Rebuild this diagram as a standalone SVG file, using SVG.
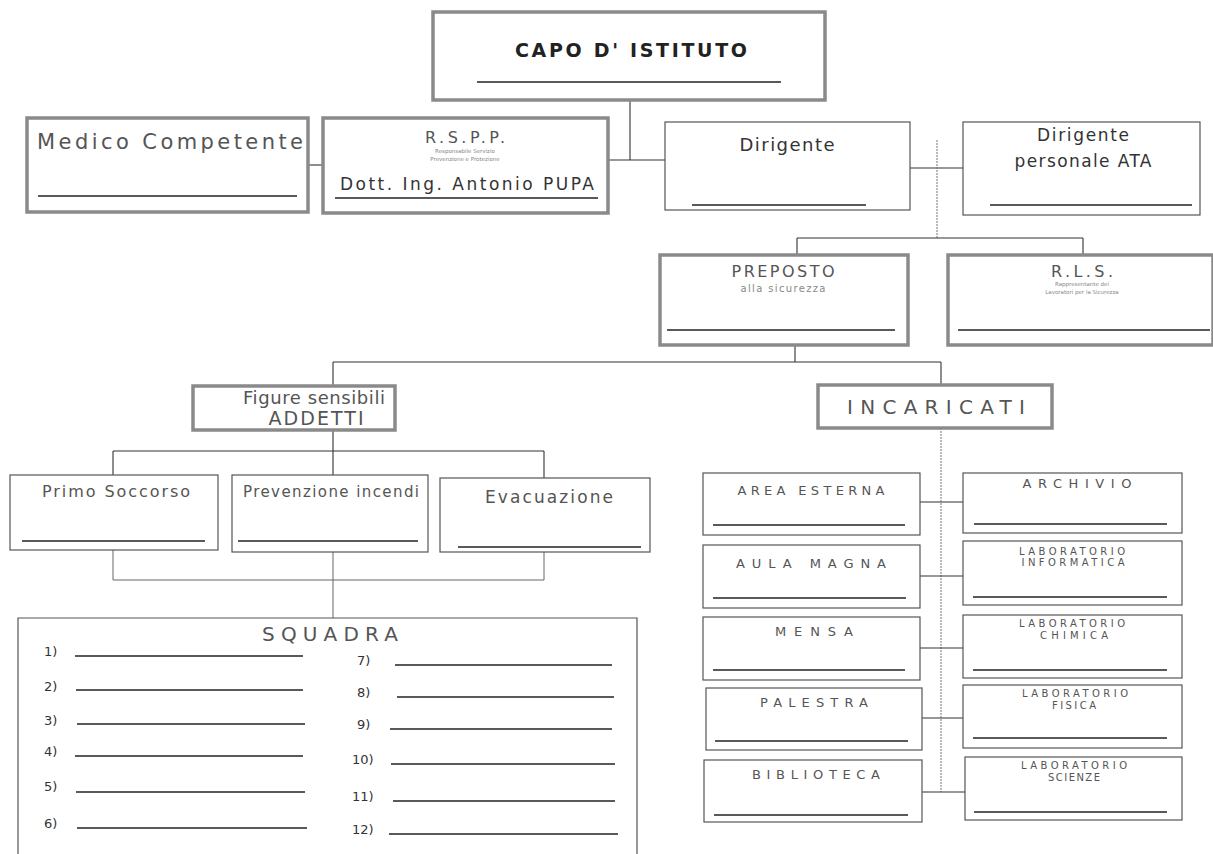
<svg xmlns="http://www.w3.org/2000/svg" width="1213" height="854" viewBox="0 0 1213 854">
<style>
.thick{fill:#fff;stroke:#8a8a8a;stroke-width:3.5}
.thin{fill:#fff;stroke:#555;stroke-width:1.2}
.ul{stroke:#222;stroke-width:1.3}
.c{stroke:#333;stroke-width:1.1;fill:none}
.cl{stroke:#666;stroke-width:1;fill:none}
.cd{stroke:#777;stroke-width:1;fill:none;stroke-dasharray:2 1}
text{font-family:"DejaVu Sans","Liberation Sans",sans-serif;text-anchor:middle}
.t{fill:#333}
.g{fill:#555}
.s{fill:#888;font-size:5.5px}
.k{fill:#555;font-size:13px}
.k2{fill:#555;font-size:10px}
.n{fill:#333;font-size:13px;text-anchor:start}
</style>
<rect width="1213" height="854" fill="#fff"/>
<g id="connectors">
<path class="c" d="M630 100V160M608 160H665"/>
<path class="c" d="M308 165H323"/>
<path class="c" d="M910 168H963"/>
<path class="cd" d="M937 140V238"/>
<path class="c" d="M797 238H1083M797 238V255M1083 238V255"/>
<path class="c" d="M795 345V362M333 362H941M333 362V386M941 362V385"/>
<path class="c" d="M333 430V451M113 451H544M113 451V475M333 451V475M544 451V478"/>
<path class="cl" d="M113 550V580M544 552V580M113 580H544M333 552V618"/>
<path class="cd" d="M941 428V792"/>
<path class="c" d="M920 502H963M920 576H963M920 648H963M922 718H963M922 792H965"/>
</g>
<g id="capo">
<rect class="thick" x="433" y="12" width="392" height="88"/>
<text x="631" y="57" font-size="19" font-weight="bold" fill="#222" textLength="232" lengthAdjust="spacing">CAPO D' ISTITUTO</text>
<line class="ul" x1="477" y1="82" x2="781" y2="82"/>
</g>
<g id="medico">
<rect class="thick" x="27" y="118" width="281" height="94"/>
<text x="170" y="149" font-size="21" class="g" textLength="266" lengthAdjust="spacing">Medico Competente</text>
<line class="ul" x1="38" y1="196" x2="297" y2="196"/>
</g>
<g id="rspp">
<rect class="thick" x="323" y="118" width="285" height="95"/>
<text x="465" y="143" font-size="16" class="g" textLength="80" lengthAdjust="spacing">R.S.P.P.</text>
<text x="465" y="153" class="s">Responsabile Servizio</text>
<text x="465" y="161" class="s">Prevenzione e Protezione</text>
<text x="467" y="190" font-size="17" class="t" textLength="254" lengthAdjust="spacing">Dott. Ing. Antonio  PUPA</text>
<line class="ul" x1="335" y1="198" x2="598" y2="198"/>
</g>
<g id="dirigente">
<rect class="thin" x="665" y="122" width="245" height="88"/>
<text x="787" y="151" font-size="18" class="t" textLength="95" lengthAdjust="spacing">Dirigente</text>
<line class="ul" x1="692" y1="205" x2="866" y2="205"/>
</g>
<g id="dirigente-ata">
<rect class="thin" x="963" y="122" width="237" height="93"/>
<text x="1083" y="141" font-size="17" class="t" textLength="92" lengthAdjust="spacing">Dirigente</text>
<text x="1083" y="167" font-size="17" class="t" textLength="137" lengthAdjust="spacing">personale ATA</text>
<line class="ul" x1="990" y1="205" x2="1192" y2="205"/>
</g>
<g id="preposto">
<rect class="thick" x="660" y="255" width="248" height="90"/>
<text x="783" y="277" font-size="16" class="g" textLength="103" lengthAdjust="spacing">PREPOSTO</text>
<text x="783" y="292" font-size="10" fill="#888" textLength="85" lengthAdjust="spacing">alla sicurezza</text>
<line class="ul" x1="667" y1="330" x2="895" y2="330"/>
</g>
<g id="rls">
<rect class="thick" x="948" y="255" width="265" height="90"/>
<text x="1082" y="277" font-size="16" class="g" textLength="62" lengthAdjust="spacing">R.L.S.</text>
<text x="1082" y="286" class="s">Rappresentante dei</text>
<text x="1082" y="294" class="s">Lavoratori per la Sicurezza</text>
<line class="ul" x1="958" y1="330" x2="1210" y2="330"/>
</g>
<g id="figure-sensibili">
<rect class="thick" x="193" y="386" width="202" height="44"/>
<text x="314" y="404" font-size="18" class="g" textLength="142" lengthAdjust="spacing">Figure sensibili</text>
<text x="316" y="425" font-size="19" class="g" textLength="95" lengthAdjust="spacing">ADDETTI</text>
</g>
<g id="incaricati">
<rect class="thick" x="818" y="385" width="234" height="43"/>
<text x="936" y="414" font-size="20" class="g" textLength="178" lengthAdjust="spacing">INCARICATI</text>
</g>
<g id="primo-soccorso">
<rect class="thin" x="10" y="475" width="208" height="75"/>
<text x="116" y="497" font-size="16" class="g" textLength="148" lengthAdjust="spacing">Primo Soccorso</text>
<line class="ul" x1="22" y1="541" x2="205" y2="541"/>
</g>
<g id="prevenzione-incendi">
<rect class="thin" x="232" y="475" width="196" height="77"/>
<text x="331" y="497" font-size="15" class="g" textLength="176" lengthAdjust="spacing">Prevenzione incendi</text>
<line class="ul" x1="238" y1="541" x2="418" y2="541"/>
</g>
<g id="evacuazione">
<rect class="thin" x="440" y="478" width="210" height="74"/>
<text x="549" y="503" font-size="17" class="g" textLength="128" lengthAdjust="spacing">Evacuazione</text>
<line class="ul" x1="458" y1="547" x2="641" y2="547"/>
</g>
<g id="squadra">
<path class="thin" d="M18 856V618H637V856"/>
<text x="330" y="641" font-size="20" class="g" textLength="136" lengthAdjust="spacing">SQUADRA</text>
<text x="44" y="656" class="n">1)</text><line class="ul" x1="75" y1="656" x2="303" y2="656"/>
<text x="44" y="691" class="n">2)</text><line class="ul" x1="76" y1="690" x2="303" y2="690"/>
<text x="44" y="725" class="n">3)</text><line class="ul" x1="77" y1="724" x2="305" y2="724"/>
<text x="44" y="756" class="n">4)</text><line class="ul" x1="75" y1="756" x2="303" y2="756"/>
<text x="44" y="791" class="n">5)</text><line class="ul" x1="76" y1="792" x2="305" y2="792"/>
<text x="44" y="828" class="n">6)</text><line class="ul" x1="77" y1="828" x2="307" y2="828"/>
<text x="357" y="665" class="n">7)</text><line class="ul" x1="395" y1="665" x2="612" y2="665"/>
<text x="357" y="697" class="n">8)</text><line class="ul" x1="397" y1="697" x2="614" y2="697"/>
<text x="357" y="729" class="n">9)</text><line class="ul" x1="390" y1="729" x2="612" y2="729"/>
<text x="352" y="764" class="n">10)</text><line class="ul" x1="391" y1="764" x2="615" y2="764"/>
<text x="352" y="801" class="n">11)</text><line class="ul" x1="393" y1="801" x2="615" y2="801"/>
<text x="352" y="834" class="n">12)</text><line class="ul" x1="389" y1="834" x2="618" y2="834"/>
</g>
<g id="area-esterna">
<rect class="thin" x="703" y="473" width="217" height="62"/>
<text x="811" y="495" class="k" textLength="147" lengthAdjust="spacing">AREA ESTERNA</text>
<line class="ul" x1="713" y1="525" x2="905" y2="525"/>
</g>
<g id="aula-magna">
<rect class="thin" x="703" y="545" width="217" height="63"/>
<text x="811" y="568" class="k" textLength="150" lengthAdjust="spacing">AULA MAGNA</text>
<line class="ul" x1="713" y1="598" x2="906" y2="598"/>
</g>
<g id="mensa">
<rect class="thin" x="703" y="617" width="217" height="63"/>
<text x="814" y="636" class="k" textLength="78" lengthAdjust="spacing">MENSA</text>
<line class="ul" x1="713" y1="670" x2="905" y2="670"/>
</g>
<g id="palestra">
<rect class="thin" x="706" y="688" width="216" height="62"/>
<text x="814" y="707" class="k" textLength="108" lengthAdjust="spacing">PALESTRA</text>
<line class="ul" x1="715" y1="741" x2="908" y2="741"/>
</g>
<g id="biblioteca">
<rect class="thin" x="704" y="760" width="218" height="62"/>
<text x="816" y="779" class="k" textLength="128" lengthAdjust="spacing">BIBLIOTECA</text>
<line class="ul" x1="714" y1="815" x2="908" y2="815"/>
</g>
<g id="archivio">
<rect class="thin" x="963" y="473" width="219" height="60"/>
<text x="1077" y="488" class="k" textLength="109" lengthAdjust="spacing">ARCHIVIO</text>
<line class="ul" x1="974" y1="524" x2="1167" y2="524"/>
</g>
<g id="lab-informatica">
<rect class="thin" x="963" y="541" width="219" height="64"/>
<text x="1072" y="555" class="k2" textLength="106" lengthAdjust="spacing">LABORATORIO</text>
<text x="1073" y="566" class="k2" textLength="103" lengthAdjust="spacing">INFORMATICA</text>
<line class="ul" x1="973" y1="597" x2="1167" y2="597"/>
</g>
<g id="lab-chimica">
<rect class="thin" x="963" y="615" width="219" height="63"/>
<text x="1072" y="627" class="k2" textLength="106" lengthAdjust="spacing">LABORATORIO</text>
<text x="1074" y="639" class="k2" textLength="68" lengthAdjust="spacing">CHIMICA</text>
<line class="ul" x1="973" y1="670" x2="1167" y2="670"/>
</g>
<g id="lab-fisica">
<rect class="thin" x="963" y="685" width="219" height="63"/>
<text x="1075" y="697" class="k2" textLength="106" lengthAdjust="spacing">LABORATORIO</text>
<text x="1074" y="709" class="k2" textLength="44" lengthAdjust="spacing">FISICA</text>
<line class="ul" x1="973" y1="738" x2="1167" y2="738"/>
</g>
<g id="lab-scienze">
<rect class="thin" x="965" y="757" width="217" height="63"/>
<text x="1074" y="769" class="k2" textLength="106" lengthAdjust="spacing">LABORATORIO</text>
<text x="1074" y="781" class="k2" textLength="52" lengthAdjust="spacing">SCIENZE</text>
<line class="ul" x1="974" y1="812" x2="1167" y2="812"/>
</g>
</svg>
